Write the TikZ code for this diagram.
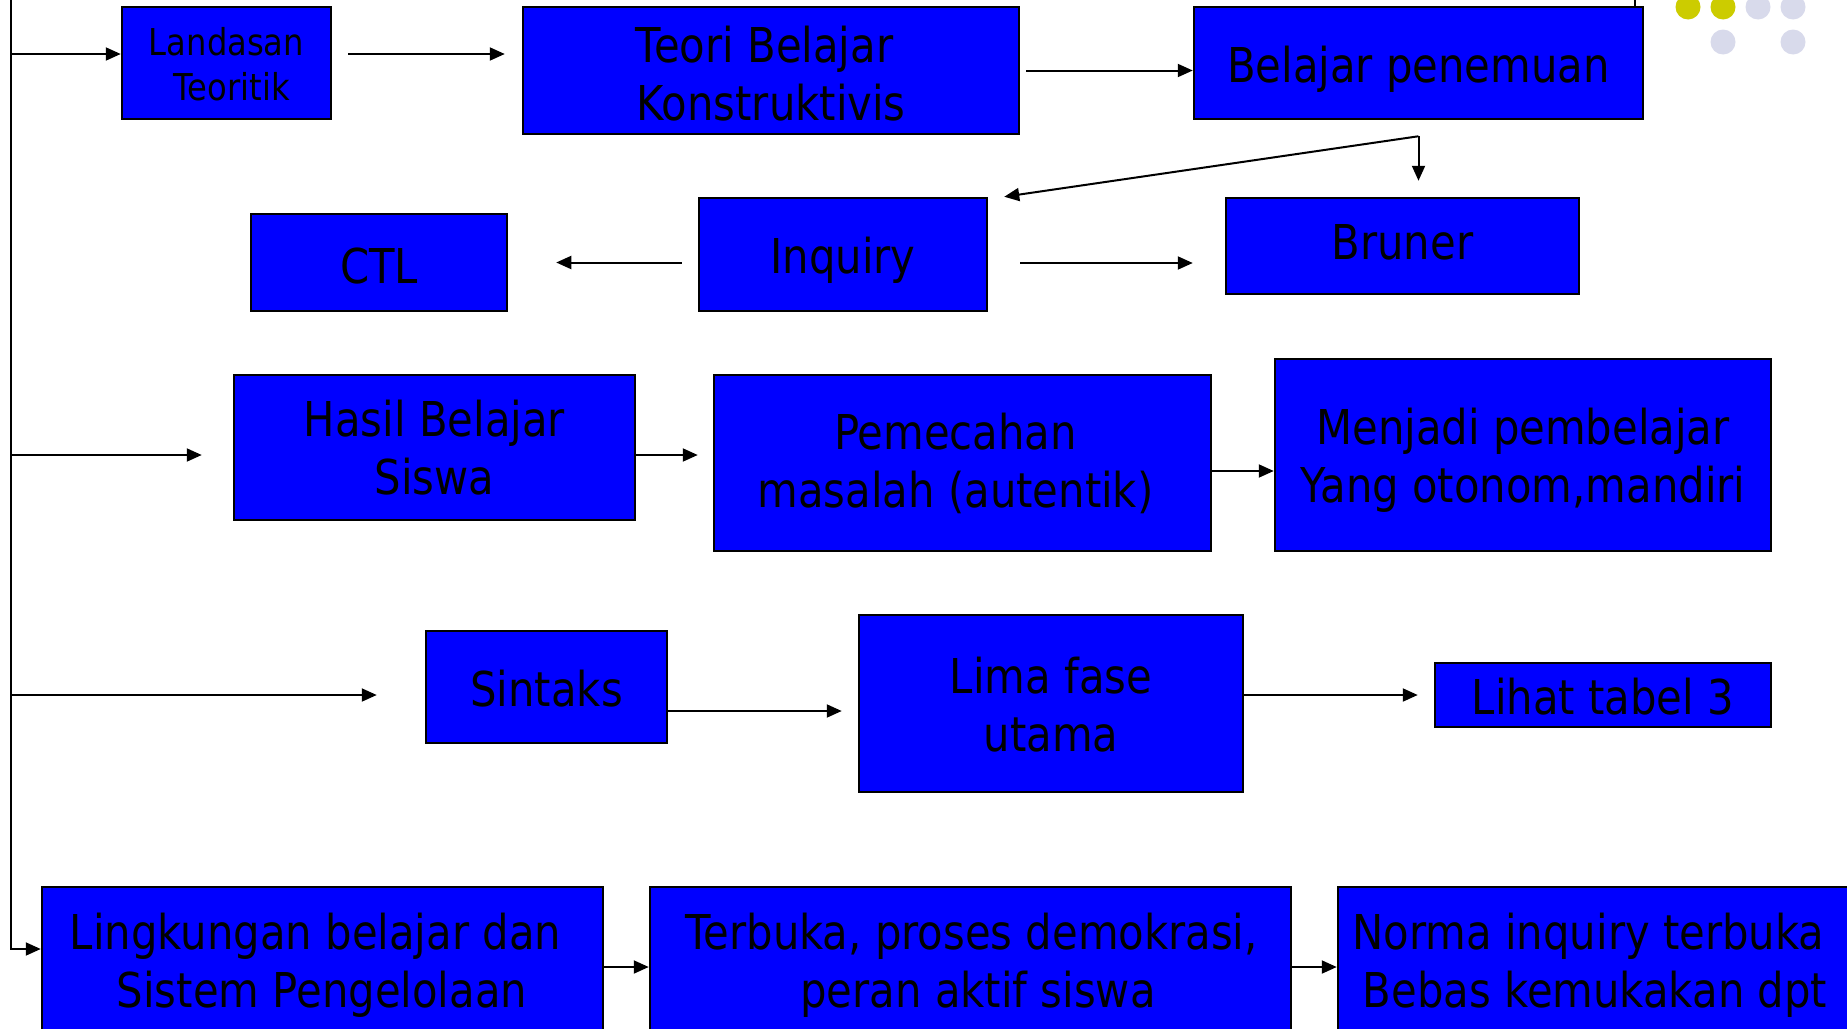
\documentclass[tikz,border=0pt]{standalone}
\usepackage{fontspec}
\setmainfont{DejaVu Sans}[FakeStretch=0.87]
\usetikzlibrary{arrows.meta}
\definecolor{boxblue}{RGB}{0,0,255}
\definecolor{dotyellow}{RGB}{204,204,0}
\definecolor{dotgrey}{RGB}{216,218,235}
\begin{document}
\begin{tikzpicture}[x=1pt,y=-1pt,
 box/.style={draw=black, line width=2.5pt, fill=boxblue, inner sep=0pt},
 lbl/.style={inner sep=0pt, align=center, font=\fontsize{48}{58}\selectfont},
 arr/.style={line width=2pt, -{Triangle[length=15pt,width=13pt]}},
 ln/.style={line width=2pt}]
\useasboundingbox (0,0) rectangle (1847,1028);
\clip (0,0) rectangle (1847,1028);
% dots
\fill[dotyellow] (1688,7) circle (12.5);
\fill[dotyellow] (1723,7) circle (12.5);
\fill[dotgrey] (1758,7) circle (12.5);
\fill[dotgrey] (1793,7) circle (12.5);
\fill[dotgrey] (1723,42) circle (12.5);
\fill[dotgrey] (1793,42) circle (12.5);
% boxes
\node[box, minimum width=209pt, minimum height=112pt] (land) at (226.5,63) {};
\node[box, minimum width=496pt, minimum height=127pt] (teori) at (771,70.5) {};
\node[box, minimum width=449pt, minimum height=112pt] (belajar) at (1418.5,63) {};
\node[box, minimum width=256pt, minimum height=97pt] (ctl) at (379,262.5) {};
\node[box, minimum width=288pt, minimum height=113pt] (inq) at (843,254.5) {};
\node[box, minimum width=353pt, minimum height=96pt] (brun) at (1402.5,246) {};
\node[box, minimum width=401pt, minimum height=145pt] (hasil) at (434.5,447.5) {};
\node[box, minimum width=497pt, minimum height=176pt] (pem) at (962.5,463) {};
\node[box, minimum width=496pt, minimum height=192pt] (menj) at (1523,455) {};
\node[box, minimum width=241pt, minimum height=112pt] (sint) at (546.5,687) {};
\node[box, minimum width=384pt, minimum height=177pt] (lima) at (1051,703.5) {};
\node[box, minimum width=336pt, minimum height=64pt] (lihat) at (1603,695) {};
\node[box, minimum width=561pt, minimum height=200pt] (ling) at (322.5,987) {};
\node[box, minimum width=641pt, minimum height=200pt] (terb) at (970.5,987) {};
\node[box, minimum width=600pt, minimum height=200pt] (norma) at (1638,987) {};
% texts
\node[lbl, font=\fontsize{37}{45}\selectfont] (landT) at ([yshift=-1pt]land.center) {Landasan\\\ Teoritik};
\node[lbl] (teoriT) at ([yshift=-3pt]teori.center) {Teori Belajar\kern13pt\\Konstruktivis};
\node[lbl] (belajarT) at ([yshift=-6pt]belajar.center) {Belajar penemuan};
\node[lbl] (ctlT) at ([yshift=-4pt]ctl.center) {CTL};
\node[lbl] (inqT) at ([yshift=-6pt]inq.center) {Inquiry};
\node[lbl] (brunT) at ([yshift=4pt]brun.center) {Bruner};
\node[lbl] (hasilT) at (hasil.center) {Hasil Belajar\\Siswa};
\node[lbl] (pemT) at ([xshift=-7pt]pem.center) {Pemecahan\\masalah (autentik)};
\node[lbl] (menjT) at ([yshift=-5pt]menj.center) {Menjadi pembelajar\\Yang otonom,mandiri};
\node[lbl] (sintT) at ([yshift=-2pt]sint.center) {Sintaks};
\node[lbl] (limaT) at ([yshift=-1pt]lima.center) {Lima fase\\utama};
\node[lbl] (lihatT) at ([yshift=-2pt]lihat.center) {Lihat tabel 3};
\node[lbl] (lingT) at (322,965) {Lingkungan belajar dan\kern13pt\\Sistem Pengelolaan};
\node[lbl] (terbT) at (978,965) {Terbuka, proses demokrasi,\kern13pt\\peran aktif siswa};
\node[lbl] (normaT) at (1595,965) {Norma inquiry terbuka\kern13pt\\Bebas kemukakan dpt};
% spine
\coordinate (top) at (11,0);
\coordinate (bot) at (11,949);
\coordinate (sp1) at (11,54);
\coordinate (sp3) at (11,455);
\coordinate (sp4) at (11,695);
\coordinate (r5) at (0,967);
\coordinate (tr) at (1635,0);
\coordinate (split) at ([yshift=-16pt]belajar.south);
\draw[arr] (top) -- (bot) -- (bot -| ling.west);
\draw[arr] (sp1) -- (sp1 -| land.west);
\draw[ln] (tr) -- (tr |- belajar.north);
% row 1
\draw[arr, shorten <=16pt, shorten >=17pt] ([yshift=9pt]land.east) -- ([yshift=9pt]land.east -| teori.west);
\draw[arr, shorten <=6pt] (teori.east) -- (teori.east -| belajar.west);
% split
\draw[arr, shorten >=16pt] (split) -- (split |- brun.north);
\draw[arr] (split) -- ([xshift=16pt]inq.north east);
% row 2
\draw[arr, shorten <=16pt, shorten >=48pt] (inq.west |- ctl.east) -- (ctl.east);
\draw[arr, shorten <=32pt, shorten >=32pt] ([yshift=-8.5pt]inq.east) -- ([yshift=-8.5pt]inq.east -| brun.west);
% row 3
\draw[arr, shorten >=31pt] (sp3) -- (sp3 -| hasil.west);
\draw[arr, shorten >=15pt] ([yshift=-7.5pt]hasil.east) -- ([yshift=-7.5pt]hasil.east -| pem.west);
\draw[arr] ([yshift=-8pt]pem.east) -- ([yshift=-8pt]pem.east -| menj.west);
% row 4
\draw[arr, shorten >=48pt] (sp4) -- (sp4 -| sint.west);
\draw[arr, shorten >=16pt] ([yshift=-24pt]sint.east) -- ([yshift=-24pt]sint.east -| lima.west);
\draw[arr, shorten >=16pt] (lima.east |- lihat.west) -- (lihat.west);
% row 5
\draw[arr] (ling.east |- r5) -- (terb.west |- r5);
\draw[arr] (terb.east |- r5) -- (norma.west |- r5);
\end{tikzpicture}
\end{document}
